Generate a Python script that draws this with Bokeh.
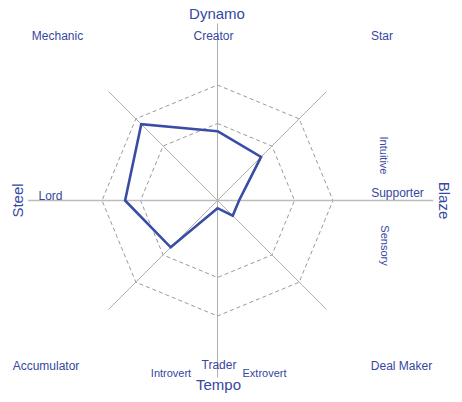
import math
from bokeh.plotting import figure
from bokeh.models import Range1d
from bokeh.core.properties import value
from bokeh.embed import file_html
from bokeh.resources import INLINE

# ---- data ----
categories = ["Creator", "Star", "Supporter", "Deal Maker", "Trader", "Accumulator", "Lord", "Mechanic"]
angles_deg = [90, 45, 0, -45, -90, -135, 180, 135]
scores = [45, 40, 14, 14, 5, 43, 60, 70]
ring_levels = [50, 75]
axis_max = 100

# ---- layout (pixels) ----
W, H = 462, 402
CX, CY = 217, 200          # centre of the radar in pixels
K = 1.54                   # pixels per value unit
TXT = "#36479f"
LINE = "#3a4da6"
FONT = "Liberation Sans"

def to_units(px, py):
    return (px - CX) / K, (CY - py) / K

p = figure(width=W, height=H, output_backend="svg", toolbar_location=None,
           x_axis_type=None, y_axis_type=None,
           x_range=Range1d(-CX / K, (W - CX) / K),
           y_range=Range1d(-(H - CY) / K, CY / K),
           min_border=0, outline_line_color=None)
p.grid.visible = False
p.background_fill_color = "white"
p.border_fill_color = "white"

rad = [math.radians(a) for a in angles_deg]

# dashed octagon rings
for lvl in ring_levels:
    xs = [lvl * math.cos(r) for r in rad] + [lvl * math.cos(rad[0])]
    ys = [lvl * math.sin(r) for r in rad] + [lvl * math.sin(rad[0])]
    p.line(xs, ys, line_color="#9a9a9a", line_width=1, line_dash="4 3")

# spokes (main axes drawn longer than diagonals)
spoke_len = {90: 115, -90: 115, 180: 123, 0: 140}
x1, y1 = [], []
for a, r in zip(angles_deg, rad):
    L = spoke_len.get(a, axis_max)
    x1.append(L * math.cos(r))
    y1.append(L * math.sin(r))
p.segment(x0=[0] * len(rad), y0=[0] * len(rad), x1=x1, y1=y1,
          line_color="#b0b0b0", line_width=1)
# horizontal axis slightly heavier
p.segment(x0=[-spoke_len[180]], y0=[0], x1=[spoke_len[0]], y1=[0],
          line_color="#bcbcbc", line_width=1.6)

# data polygon
px_ = [v * math.cos(r) for v, r in zip(scores, rad)]
py_ = [v * math.sin(r) for v, r in zip(scores, rad)]
p.line(px_ + [px_[0]], py_ + [py_[0]], line_color=LINE, line_width=2.6, line_join="miter")

# labels: (text, px, py visual centre, size)
normal = [("Creator", 213, 35), ("Mechanic", 57, 35), ("Star", 381.5, 35),
          ("Supporter", 397, 192.5), ("Deal Maker", 401, 365.5), ("Trader", 218.5, 364.5),
          ("Accumulator", 45.5, 365.5), ("Lord", 50, 195.5)]
for t, x, y in normal:
    ux, uy = to_units(x, y)
    p.text([ux], [uy], text=[t], text_font=value(FONT), text_font_size="12px",
           text_color=TXT, text_align="center", text_baseline="middle")

small = [("Introvert", 170.5, 372), ("Extrovert", 264, 372)]
for t, x, y in small:
    ux, uy = to_units(x, y)
    p.text([ux], [uy], text=[t], text_font=value(FONT), text_font_size="11px",
           text_color=TXT, text_align="center", text_baseline="middle")

big = [("Dynamo", 216.5, 13), ("Tempo", 218, 384)]
for t, x, y in big:
    ux, uy = to_units(x, y)
    p.text([ux], [uy], text=[t], text_font=value(FONT), text_font_size="15px",
           text_color=TXT, text_align="center", text_baseline="middle")

rotated = [("Intuitive", 383, 155, "11px", -math.pi / 2),
           ("Sensory", 384, 245, "11px", -math.pi / 2),
           ("Blaze", 443.5, 200, "15px", -math.pi / 2),
           ("Steel", 17, 200, "15px", math.pi / 2)]
for t, x, y, s, ang in rotated:
    ux, uy = to_units(x, y)
    p.text([ux], [uy], text=[t], text_font=value(FONT), text_font_size=s, angle=ang,
           text_color=TXT, text_align="center", text_baseline="middle")

open("out.html", "w").write(file_html(p, INLINE))
